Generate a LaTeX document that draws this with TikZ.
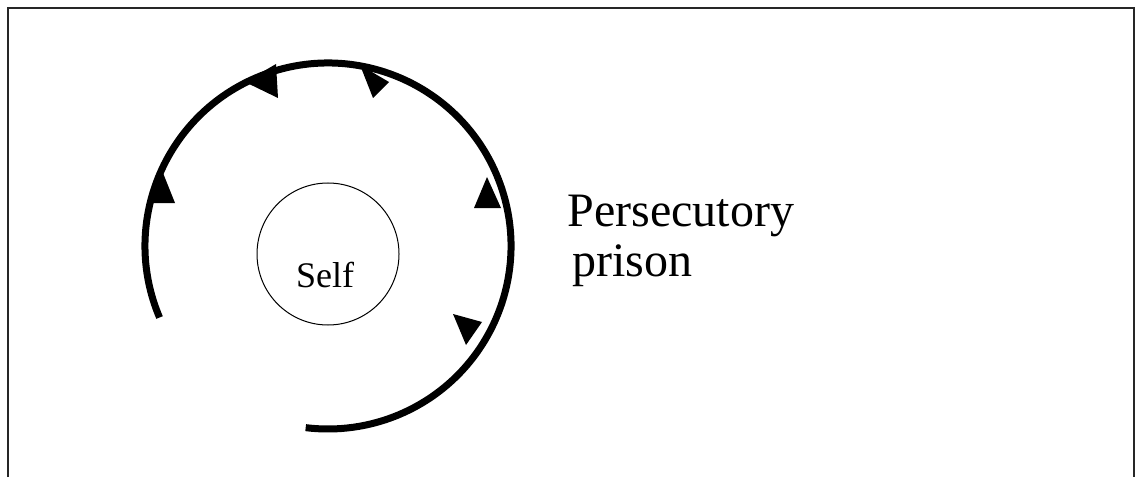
\documentclass[tikz,border=0pt]{standalone}
\usepackage{fontspec}
\setmainfont{Liberation Serif}
\usepackage{tikz}
\usetikzlibrary{positioning}

\begin{document}
\begin{tikzpicture}[
  x=0.5pt, y=0.5pt,
  frame/.style={draw=black!85, line width=1pt},
  prison/.style={draw=black, line width=3.5pt, line cap=butt},
  barb/.style={fill=black},
  selfring/.style={draw=black, circle, line width=0.5pt, minimum size=71pt, inner sep=0pt},
  label/.style={font=\fontsize{24}{24.5}\selectfont, align=left, inner sep=0pt}
]
  \useasboundingbox (0,0) rectangle (1138,477);

  % Outer frame (open at the bottom)
  \draw[frame] (8,0) |- (1134,469) -- (1134,0);

  % Centre of the prison ring
  \coordinate (ctr) at (328,231);

  % The self
  \node[selfring] (self) at (328,223) {};
  \node[font=\fontsize{18}{20}\selectfont, inner sep=0pt, anchor=base] (selftext) at (325,190) {Self};

  % Prison ring with its gap at the lower left
  \draw[prison] (ctr) ++(203:183) arc[start angle=203, end angle=-97, radius=183];

  % Barbs along the ring
  \fill[barb] (163,304) -- (152,274) -- (175,274) -- cycle;
  \fill[barb] (245,395) -- (276,413) -- (278,379) -- cycle;
  \fill[barb] (360,412) -- (389,395) -- (373,379) -- cycle;
  \fill[barb] (487,300) -- (474,269) -- (501,269) -- cycle;
  \fill[barb] (453,163) -- (482,155) -- (466,132) -- cycle;

  % Caption (base anchor sits on the last line)
  \node[label, anchor=base west] (caption) at (567,201) {Persecutory\\\hspace*{2.5pt}prison};
\end{tikzpicture}
\end{document}
